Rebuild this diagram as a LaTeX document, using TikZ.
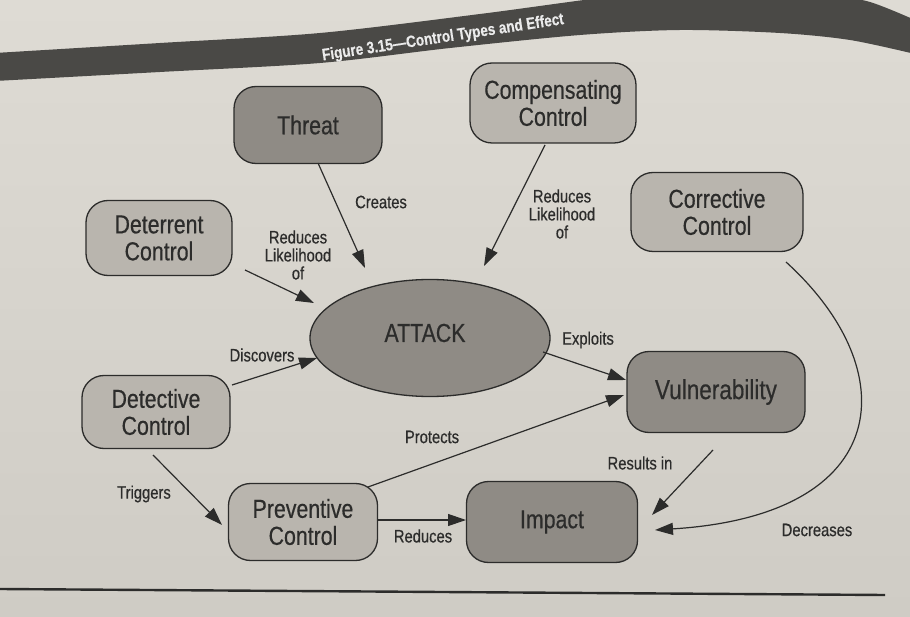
\documentclass[tikz,border=0pt]{standalone}
\usepackage{fontspec}
\setmainfont{Liberation Sans}[FakeStretch=0.82,FakeBold=0.5]
\usetikzlibrary{arrows.meta,calc,shapes.geometric}
\definecolor{pagetop}{HTML}{DEDBD4}
\definecolor{pagebot}{HTML}{CFCCC5}
\definecolor{band}{HTML}{4A4946}
\definecolor{lightbox}{HTML}{B9B5AE}
\definecolor{darkbox}{HTML}{8F8B85}
\definecolor{ink}{HTML}{2C2C2B}
\begin{document}
\begin{tikzpicture}[x=1pt,y=-1pt,
  box/.style={draw=ink, line width=1.3pt, rounded corners=22pt, inner sep=0pt, align=center,
    text=ink, font=\fontsize{26}{27}\selectfont},
  lightnode/.style={box, fill=lightbox},
  darknode/.style={box, fill=darkbox},
  lab/.style={text=ink, align=center, inner sep=0pt, font=\fontsize{18}{18}\selectfont},
  arr/.style={draw=ink, line width=1.2pt, -{Triangle[length=18pt,width=12pt]}}]
\useasboundingbox (0,0) rectangle (910,617);
% page
\fill[top color=pagetop, bottom color=pagebot] (0,0) rectangle (910,617);
% banner
\fill[band] plot[smooth] coordinates {(-5,53) (160,43) (320,33) (480,14) (600,-2) (700,-12)}
  -- (820,-8) -- plot[smooth] coordinates {(820,-8) (870,2) (915,20)}
  -- (915,54)
  -- plot[smooth] coordinates {(915,54) (850,40) (780,33) (680,30) (580,35) (450,48) (320,63) (160,72) (-5,81)}
  -- cycle;
\node[text=white!92!black, font=\bfseries\fontsize{16.5}{16}\selectfont, rotate=8.6, inner sep=0pt] (title) at (443,38) {Figure 3.15---Control Types and Effect};
% bottom rule
\draw[ink, line width=2.4pt] (0,589) -- (885,595);
% nodes
\node[darknode, minimum width=148pt, minimum height=77pt] (threat) at (308,125) {Threat};
\node[lightnode, minimum width=166pt, minimum height=80pt] (comp) at (553,103) {Compensating\\Control};
\node[lightnode, minimum width=146pt, minimum height=75pt] (deter) at (159,238) {Deterrent\\Control};
\node[lightnode, minimum width=172pt, minimum height=79pt] (corr) at (717,212) {Corrective\\Control};
\node[draw=ink, line width=1.3pt, fill=darkbox, ellipse, minimum width=240pt, minimum height=117pt, inner sep=0pt] (attack) at (430,338) {};
\node[text=ink, font=\fontsize{26}{27}\selectfont, inner sep=0pt] (attacktxt) at (425,333) {ATTACK};
\node[darknode, minimum width=178pt, minimum height=81pt] (vuln) at (716,392) {\fontsize{27.5}{28}\selectfont Vulnerability};
\node[lightnode, minimum width=148pt, minimum height=73pt] (detect) at (156,412) {Detective\\Control};
\node[lightnode, minimum width=149pt, minimum height=77pt] (prev) at (303,522) {Preventive\\Control};
\node[darknode, minimum width=171pt, minimum height=81pt] (impact) at (552,522) {Impact};
% connectors
\draw[arr] ($(threat)+(10,38)$) -- ($(attack)+(-65,-70)$);
\draw[arr] ($(comp)+(-8,42)$) -- ($(attack)+(54,-72)$);
\draw[arr] ($(deter)+(86,32)$) -- ($(attack)+(-116,-35)$);
\draw[arr] ($(detect)+(76,-27)$) -- ($(attack)+(-113,20)$);
\draw[arr] ($(attack)+(113,14)$) -- ($(vuln)+(-90,-12)$);
\draw[arr] ($(prev)+(65,-35)$) -- ($(vuln)+(-92,3)$);
\draw[arr] ($(vuln)+(-3,58)$) -- ($(impact)+(100,-7)$);
\draw[arr] ($(corr)+(69,50)$) .. controls ($(corr)+(188,158)$) and ($(impact)+(343,-7)$) .. ($(impact)+(103,8)$);
\draw[arr] ($(detect)+(-3,43)$) -- ($(prev)+(-81,3)$);
\draw[arr] ($(prev)+(75,-2)$) -- ($(impact)+(-86,-2)$);
% labels
\node[lab] (l1) at (381,202) {Creates};
\node[lab] (l2) at (562,214) {Reduces\\Likelihood\\of};
\node[lab] (l3) at (298,255) {Reduces\\Likelihood\\of};
\node[lab] (l4) at (262,355) {Discovers};
\node[lab] (l5) at (588,340) {Exploits};
\node[lab] (l6) at (432,437) {Protects};
\node[lab] (l7) at (640,463) {Results in};
\node[lab] (l8) at (817,530) {Decreases};
\node[lab] (l9) at (144,494) {Triggers};
\node[lab] (l10) at (423,536) {Reduces};
\end{tikzpicture}
\end{document}
